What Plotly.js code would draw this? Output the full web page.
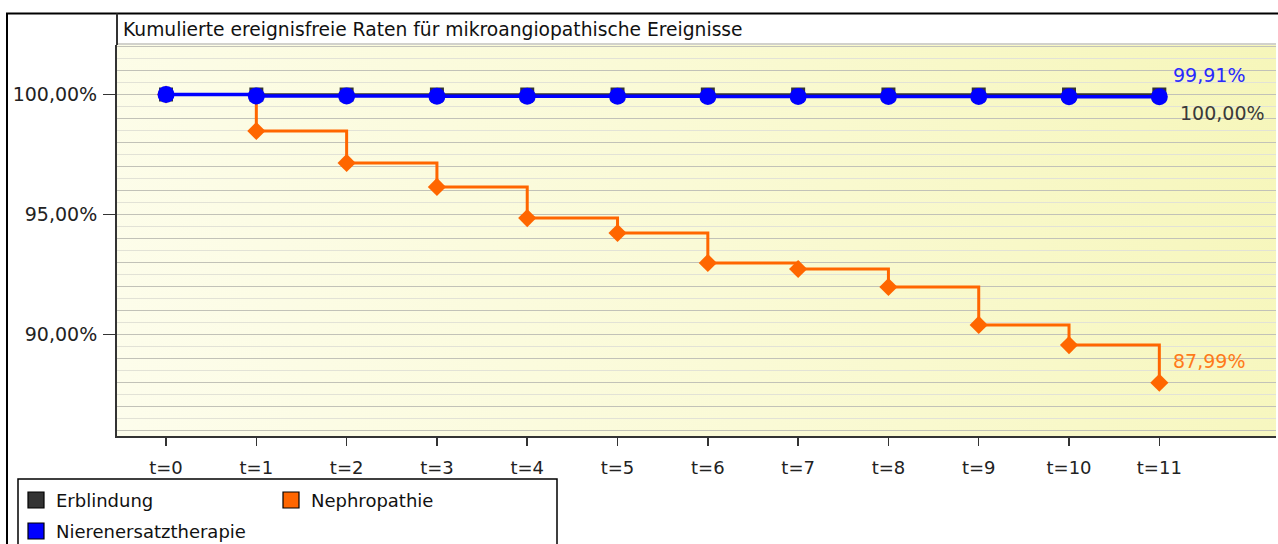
<!DOCTYPE html>
<html>
<head>
<meta charset="utf-8">
<script src="https://cdn.plot.ly/plotly-3.0.1.min.js"></script>
<style>html,body{margin:0;padding:0;background:#fff;}#chart{width:1278px;height:544px;}</style>
</head>
<body>
<div id="chart"></div>
<script>
// ---- data ----
const categories = ['t=0','t=1','t=2','t=3','t=4','t=5','t=6','t=7','t=8','t=9','t=10','t=11'];
const seriesNames = ['Erblindung', 'Nephropathie', 'Nierenersatztherapie'];
const erblindung = [100, 100, 100, 100, 100, 100, 100, 100, 100, 100, 100, 100];
const nephropathie = [100, 98.48, 97.15, 96.15, 94.85, 94.23, 92.98, 92.73, 91.98, 90.40, 89.56, 87.99];
const nierenersatz = [100, 99.94, 99.94, 99.93, 99.93, 99.93, 99.92, 99.92, 99.92, 99.92, 99.91, 99.91];
const yTickVals = [90, 95, 100];
const chartTitle = 'Kumulierte ereignisfreie Raten für mikroangiopathische Ereignisse';

// ---- styling ----
const colors = { 'Erblindung': '#333333', 'Nephropathie': '#ff6600', 'Nierenersatztherapie': '#0000ff' };
const labelColors = { 'Erblindung': '#3a3a3a', 'Nephropathie': '#ff7a1a', 'Nierenersatztherapie': '#2a2aff' };
const FONT = 'DejaVu Sans, Verdana, sans-serif';
const W = 1278, H = 544, L = 117, R = 2, T = 45, B = 108;
const PW = W - L - R, PH = H - T - B;
const px = x => (x - L) / PW;
const py = y => (H - B - y) / PH;
const fmt = v => v.toFixed(2).replace('.', ',') + '%';

// gradient background for plot area
function makeBg() {
  const c = document.createElement('canvas');
  c.width = PW; c.height = PH;
  const g = c.getContext('2d');
  const grd = g.createLinearGradient(0, PH, PW, 0);
  grd.addColorStop(0, '#fdfdec');
  grd.addColorStop(0.5, '#fafad6');
  grd.addColorStop(1, '#f6f6ba');
  g.fillStyle = grd;
  g.fillRect(0, 0, PW, PH);
  return c.toDataURL('image/png');
}

const traces = [
  { name: 'Nephropathie', x: categories, y: nephropathie, type: 'scatter', mode: 'lines+markers',
    line: { shape: 'hv', color: colors['Nephropathie'], width: 3 },
    marker: { symbol: 'diamond', size: 14, color: colors['Nephropathie'] }, showlegend: false, hoverinfo: 'skip' },
  { name: 'Erblindung', x: categories, y: erblindung, type: 'scatter', mode: 'lines+markers',
    line: { shape: 'hv', color: colors['Erblindung'], width: 2.5 },
    marker: { symbol: 'square', size: 14, color: colors['Erblindung'] }, showlegend: false, hoverinfo: 'skip' },
  { name: 'Nierenersatztherapie', x: categories, y: nierenersatz, type: 'scatter', mode: 'lines+markers',
    line: { shape: 'hv', color: colors['Nierenersatztherapie'], width: 3.5 },
    marker: { symbol: 'circle', size: 17, color: colors['Nierenersatztherapie'] }, showlegend: false, hoverinfo: 'skip' }
];

const last = categories.length - 1;
const annotations = [
  { x: categories[last], y: nierenersatz[last], xref: 'x', yref: 'y', text: fmt(nierenersatz[last]),
    showarrow: false, xanchor: 'left', yanchor: 'middle', xshift: 12, yshift: 22,
    font: { family: FONT, size: 19, color: labelColors['Nierenersatztherapie'] } },
  { x: categories[last], y: erblindung[last], xref: 'x', yref: 'y', text: fmt(erblindung[last]),
    showarrow: false, xanchor: 'left', yanchor: 'middle', xshift: 19, yshift: -18,
    font: { family: FONT, size: 19, color: labelColors['Erblindung'] } },
  { x: categories[last], y: nephropathie[last], xref: 'x', yref: 'y', text: fmt(nephropathie[last]),
    showarrow: false, xanchor: 'left', yanchor: 'middle', xshift: 12, yshift: 22,
    font: { family: FONT, size: 19, color: labelColors['Nephropathie'] } },
  { x: px(121), y: py(30), xref: 'paper', yref: 'paper', text: chartTitle, showarrow: false,
    xanchor: 'left', yanchor: 'middle', font: { family: FONT, size: 18.7, color: '#111' } }
];

const shapes = [
  // title strip
  { type: 'rect', xref: 'paper', yref: 'paper', x0: 0, x1: 1, y0: 1, y1: py(14), fillcolor: '#ffffff', line: { width: 0 } },
  { type: 'line', xref: 'paper', yref: 'paper', x0: 0, x1: 1, y0: py(44), y1: py(44), line: { color: '#d2d2cc', width: 2 } },
  // outer frame
  { type: 'line', xref: 'paper', yref: 'paper', x0: px(6), x1: 1.01, y0: py(13.5), y1: py(13.5), line: { color: '#000', width: 2 } },
  { type: 'line', xref: 'paper', yref: 'paper', x0: px(7), x1: px(7), y0: py(13.5), y1: py(550), line: { color: '#000', width: 2 } },
  { type: 'line', xref: 'paper', yref: 'paper', x0: px(117), x1: px(117), y0: py(13.5), y1: 1, line: { color: '#333', width: 2 } }
];

// manual legend
const legBox = { x0: 18, x1: 557, y0: 479, y1: 560 };
shapes.push({ type: 'rect', xref: 'paper', yref: 'paper', x0: px(legBox.x0), x1: px(legBox.x1), y0: py(legBox.y0), y1: py(legBox.y1),
  fillcolor: '#ffffff', line: { color: '#000', width: 1.5 } });
const legPos = [ { x: 28, y: 500 }, { x: 283, y: 500 }, { x: 28, y: 531 } ];
seriesNames.forEach((n, i) => {
  const p = legPos[i];
  shapes.push({ type: 'rect', xref: 'paper', yref: 'paper', x0: px(p.x), x1: px(p.x + 16), y0: py(p.y - 8), y1: py(p.y + 8),
    fillcolor: colors[n], line: { color: '#000', width: 1.2 } });
  annotations.push({ x: px(p.x + 26), y: py(p.y), xref: 'paper', yref: 'paper', text: n, showarrow: false,
    xanchor: 'left', yanchor: 'middle', font: { family: FONT, size: 18, color: '#111' } });
});

const yRange = [100 - (H - B - T - 49.5) / 24, 100 + 49.5 / 24];

const layout = {
  width: W, height: H,
  margin: { l: L, r: R, t: T, b: B, pad: 0 },
  paper_bgcolor: '#ffffff',
  plot_bgcolor: 'rgba(0,0,0,0)',
  showlegend: false,
  font: { family: FONT, size: 18, color: '#222' },
  xaxis: {
    type: 'category', range: [-0.543, 12.292], fixedrange: true, automargin: false,
    showgrid: false, zeroline: false, showline: true, linecolor: '#333', linewidth: 2,
    ticks: 'outside', ticklen: 8, tickwidth: 1.5, tickcolor: '#333', ticklabelstandoff: 6,
    tickfont: { family: FONT, size: 18, color: '#222' }
  },
  yaxis: {
    range: yRange, fixedrange: true, automargin: false,
    tickmode: 'array', tickvals: yTickVals, ticktext: yTickVals.map(fmt),
    showgrid: false, zeroline: false, showline: true, linecolor: '#333', linewidth: 2,
    ticks: 'outside', ticklen: 12, tickwidth: 1.5, tickcolor: '#333', ticklabelstandoff: 2,
    tickfont: { family: FONT, size: 19, color: '#222' },
    minor: { dtick: 0.5, tick0: 0, showgrid: true, gridcolor: '#e2e2d6', gridwidth: 1.5, ticks: '' }
  },
  yaxis2: {
    overlaying: 'y', range: yRange, fixedrange: true, automargin: false,
    tickmode: 'linear', dtick: 1, tick0: 0, showticklabels: false, ticks: '',
    showgrid: true, gridcolor: '#c2c2b8', gridwidth: 1.5, zeroline: false, showline: false
  },
  images: [{ source: makeBg(), xref: 'paper', yref: 'paper', x: 0, y: 1, sizex: 1, sizey: 1,
    sizing: 'stretch', xanchor: 'left', yanchor: 'top', layer: 'below' }],
  shapes: shapes,
  annotations: annotations
};

// dummy trace on y2 so its grid is drawn
traces.unshift({ x: [categories[0]], y: [null], yaxis: 'y2', type: 'scatter', mode: 'markers', showlegend: false, hoverinfo: 'skip' });

Plotly.newPlot('chart', traces, layout, { displayModeBar: false, staticPlot: true });
</script>
</body>
</html>
